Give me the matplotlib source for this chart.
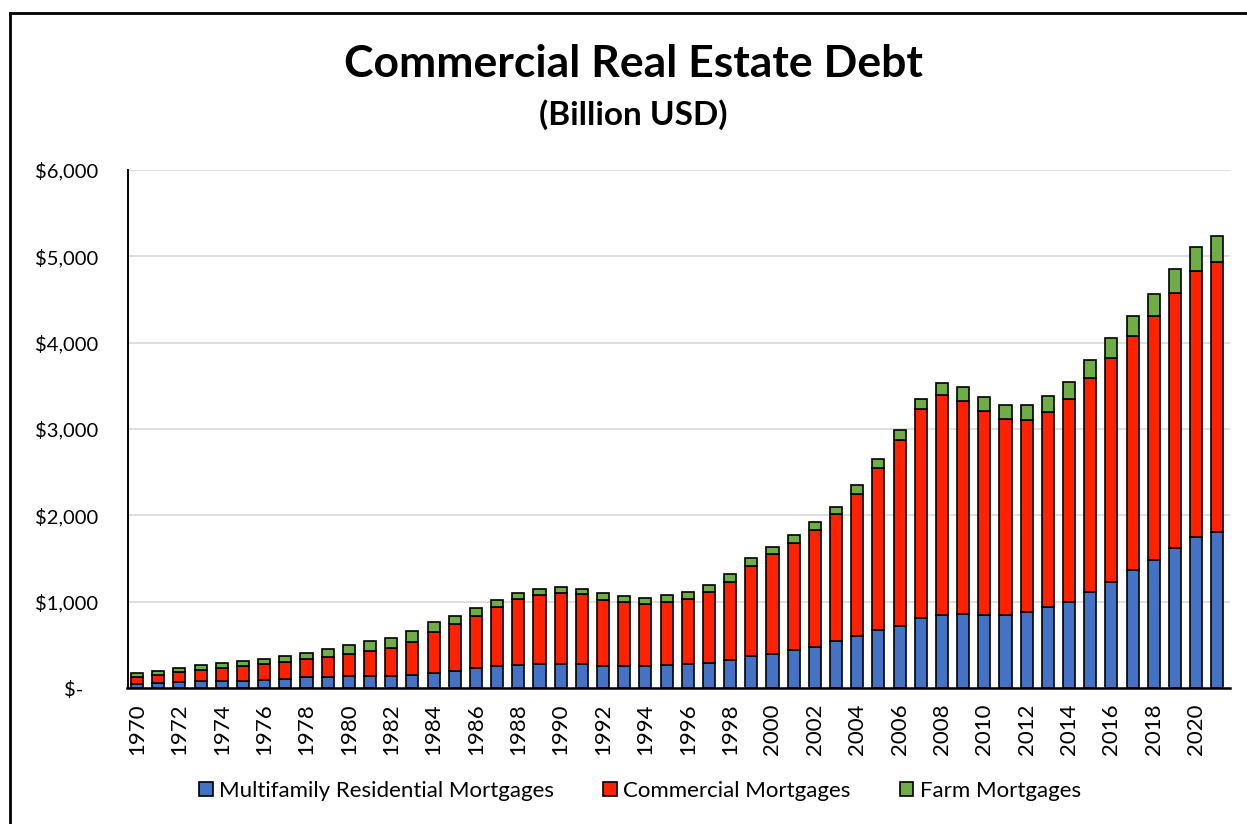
import matplotlib
matplotlib.use("Agg")
import matplotlib.pyplot as plt
from matplotlib.patches import Patch
from matplotlib.lines import Line2D
import numpy as np

years = list(range(1970, 2022))

# Billion USD
multifamily = [50, 58, 73, 81, 85, 85, 96, 108, 123, 127,
               134, 134, 134, 146, 177, 193, 232, 250, 266, 278,
               278, 278, 258, 258, 258, 266, 278, 290, 328, 371,
               394, 440, 478, 548, 602, 667, 713, 806, 845, 853,
               849, 849, 884, 938, 999, 1115, 1231, 1362, 1486, 1617,
               1752, 1802]
commercial = [77, 92, 108, 131, 150, 165, 177, 189, 213, 235,
              260, 298, 333, 390, 475, 544, 597, 691, 765, 794,
              822, 806, 765, 738, 718, 725, 756, 820, 904, 1045,
              1153, 1235, 1347, 1467, 1648, 1881, 2162, 2428, 2551, 2476,
              2362, 2266, 2223, 2258, 2351, 2478, 2597, 2714, 2822, 2964,
              3080, 3138]
farm = [42, 45, 46, 54, 50, 58, 58, 74, 69, 93,
        99, 116, 115, 119, 116, 97, 93, 78, 69, 74,
        70, 66, 73, 69, 70, 81, 81, 83, 92, 85,
        89, 97, 97, 85, 104, 107, 116, 116, 139, 152,
        154, 166, 174, 189, 197, 212, 225, 235, 254, 271,
        278, 301]

series_names = ["Multifamily Residential Mortgages", "Commercial Mortgages", "Farm Mortgages"]
colors = ["#4472C4", "#FF2200", "#70AD47"]
yticks = [0, 1000, 2000, 3000, 4000, 5000, 6000]
ytick_labels = ["$-   ", "$1,000", "$2,000", "$3,000", "$4,000", "$5,000", "$6,000"]

plt.rcParams['font.family'] = ['Lato', 'DejaVu Sans']

W, H = 1247, 824
fig = plt.figure(figsize=(W / 100, H / 100), dpi=100)
ax = fig.add_axes([127.5 / W, 1 - 688 / H, (1230 - 127.5) / W, (688 - 170) / H])

x = np.arange(len(years))
m = np.array(multifamily)
c = np.array(commercial)
f = np.array(farm)
bw = 0.57
ax.bar(x, m, bw, color=colors[0], edgecolor="black", linewidth=1.2, zorder=3)
ax.bar(x, c, bw, bottom=m, color=colors[1], edgecolor="black", linewidth=1.2, zorder=3)
ax.bar(x, f, bw, bottom=m + c, color=colors[2], edgecolor="black", linewidth=1.2, zorder=3)

ax.set_xlim(-0.45, len(years) - 1 + 0.6)
ax.set_ylim(0, 6000)
ax.set_yticks(yticks)
ax.set_yticklabels(ytick_labels, fontsize=14.5)
ax.tick_params(axis='y', length=0, pad=21)
ax.set_xticks(x[::2])
ax.set_xticklabels([str(y) for y in years[::2]], rotation=90, fontsize=16)
ax.tick_params(axis='x', length=0, pad=11)

ax.grid(axis='y', color="#D9D9D9", linewidth=1.2, zorder=0)
for s in ["top", "right"]:
    ax.spines[s].set_visible(False)
ax.spines["left"].set_linewidth(1.4)
ax.spines["bottom"].set_linewidth(1.8)
ax.spines["bottom"].set_zorder(4)

fig.text(633 / W, 1 - 64 / H, "Commercial Real Estate Debt", ha='center', va='center',
         fontsize=32, fontweight='bold')
fig.text(633 / W, 1 - 115 / H, "(Billion USD)", ha='center', va='center',
         fontsize=24, fontweight='bold')

handles = [Patch(facecolor=colors[i], edgecolor="black", linewidth=1.2, label=series_names[i])
           for i in range(3)]
fig.legend(handles=handles, loc='center', bbox_to_anchor=(640 / W, 1 - 791 / H), ncol=3,
           frameon=False, fontsize=16, handlelength=0.6, handleheight=0.6,
           handletextpad=0.3, columnspacing=2.2)

# outer frame (only top and left edges visible in the reference)
fig.add_artist(Line2D([10 / W, 1], [1 - 13 / H, 1 - 13 / H], color="black", linewidth=2,
                      transform=fig.transFigure))
fig.add_artist(Line2D([10 / W, 10 / W], [0, 1 - 13 / H], color="black", linewidth=2,
                      transform=fig.transFigure))

fig.savefig("out.png", dpi=100)
